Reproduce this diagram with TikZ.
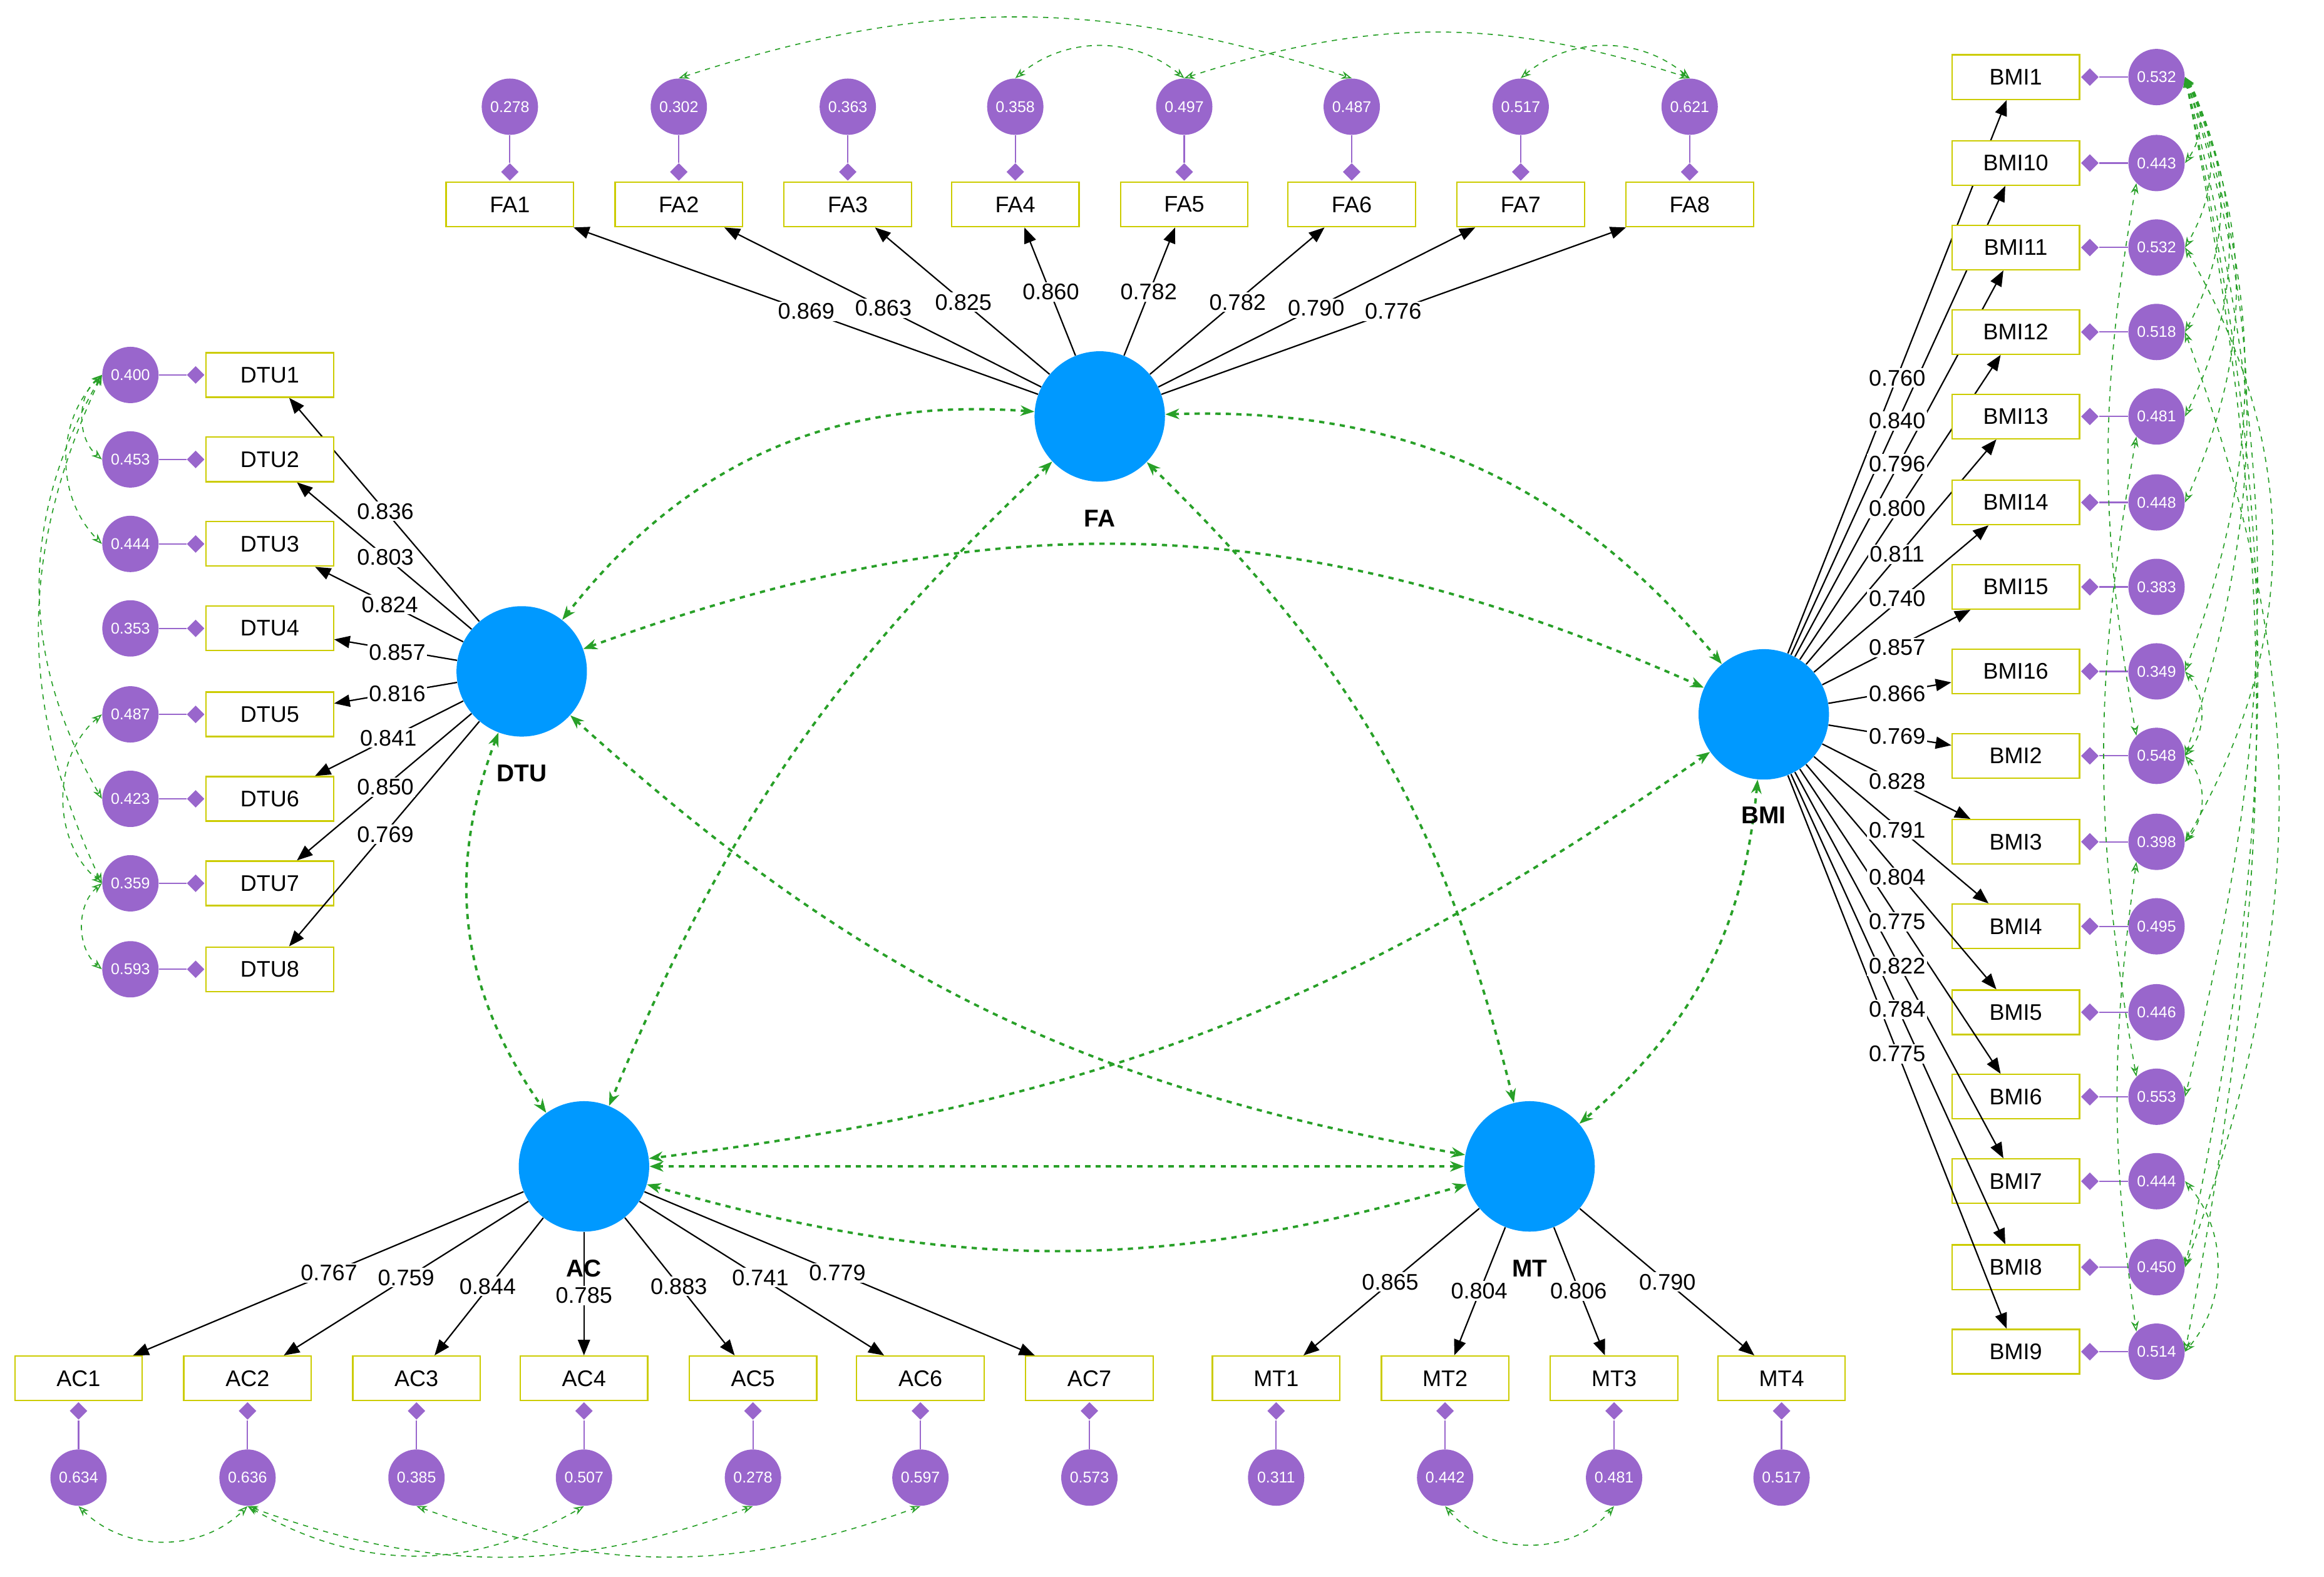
\documentclass[tikz,border=0pt]{standalone}
\usepackage{fontspec}
\setmainfont{Liberation Sans}
\usetikzlibrary{arrows.meta,shapes.geometric}
\definecolor{lv}{RGB}{0,153,255}
\definecolor{er}{RGB}{153,102,204}
\definecolor{bx}{RGB}{204,204,0}
\definecolor{gr}{RGB}{40,160,40}
\begin{document}
\begin{tikzpicture}[x=0.03cm,y=-0.03cm,
 lv/.style={circle,fill=lv,minimum size=2.64cm,inner sep=0},
 ind/.style={draw=bx,line width=0.8pt,fill=white,minimum width=2.58cm,minimum height=0.9cm,inner sep=0,font=\fontsize{13}{13}\selectfont},
 err/.style={circle,fill=er,minimum size=1.14cm,inner sep=0,text=white,font=\fontsize{9}{9}\selectfont},
 ld/.style={-{Triangle[length=9pt,width=7pt]},line width=0.8pt},
 lab/.style={fill=white,inner sep=1pt,font=\fontsize{13}{13}\selectfont},
 el/.style={er,line width=0.8pt},
 dm/.style={diamond,fill=er,minimum size=0.36cm,inner sep=0},
 cov/.style={gr,dashed,line width=1.4pt,{Stealth[open,length=8pt]}-{Stealth[open,length=8pt]}},
 ecov/.style={gr,dashed,line width=0.6pt,{Stealth[open,length=6pt]}-{Stealth[open,length=6pt]}},
 lvl/.style={font=\bfseries\fontsize{14}{14}\selectfont}]
\useasboundingbox (0,0) rectangle (1568,1064);
% latent variables
\node[lv] (FA) at (742,281) {};
\node[lv] (DTU) at (352,453) {};
\node[lv] (BMI) at (1190,482) {};
\node[lv] (AC) at (394,787) {};
\node[lv] (MT) at (1032,787) {};
% FA indicators
\foreach \i/\x/\e in {1/344/0.278,2/458/0.302,3/572/0.363,4/685/0.358,5/799/0.497,6/912/0.487,7/1026/0.517,8/1140/0.621}{
 \node[ind] (fa\i) at (\x,138) {FA\i};
 \node[err] (fa\i e) at (\x,72) {\e};
 \node[dm] (fa\i d) at (\x,116) {};
 \draw[el] (fa\i e) -- (fa\i d);
 \draw[ld] (FA) -- (fa\i);
}
\foreach \i/\l/\lx/\ly in {1/0.869/544/210,2/0.863/596/208,3/0.825/650/204,4/0.860/709/197,5/0.782/775/197,6/0.782/835/204,7/0.790/888/208,8/0.776/940/210}{\node[lab] (fa\i l) at (\lx,\ly) {\l};}
% DTU indicators
\foreach \i/\y/\e in {1/253/0.400,2/310/0.453,3/367/0.444,4/424/0.353,5/482/0.487,6/539/0.423,7/596/0.359,8/654/0.593}{
 \node[ind] (dtu\i) at (182,\y) {DTU\i};
 \node[err] (dtu\i e) at (88,\y) {\e};
 \node[dm] (dtu\i d) at (132,\y) {};
 \draw[el] (dtu\i e) -- (dtu\i d);
 \draw[ld] (DTU) -- (dtu\i);
}
\foreach \i/\l/\lx/\ly in {1/0.836/260/345,2/0.803/260/376,3/0.824/263/408,4/0.857/268/440,5/0.816/268/468,6/0.841/262/498,7/0.850/260/531,8/0.769/260/563}{\node[lab] (dtu\i l) at (\lx,\ly) {\l};}
% BMI indicators
\foreach \n/\t/\y/\e in {1/BMI1/52/0.532,2/BMI10/110/0.443,3/BMI11/167/0.532,4/BMI12/224/0.518,5/BMI13/281/0.481,6/BMI14/339/0.448,7/BMI15/396/0.383,8/BMI16/453/0.349,9/BMI2/510/0.548,10/BMI3/568/0.398,11/BMI4/625/0.495,12/BMI5/683/0.446,13/BMI6/740/0.553,14/BMI7/797/0.444,15/BMI8/855/0.450,16/BMI9/912/0.514}{
 \node[ind] (bmi\n) at (1360,\y) {\t};
 \node[err] (bmi\n e) at (1455,\y) {\e};
 \node[dm] (bmi\n d) at (1410,\y) {};
 \draw[el] (bmi\n e) -- (bmi\n d);
 \draw[ld] (BMI) -- (bmi\n);
}
\foreach \n/\l/\ly in {1/0.760/255,2/0.840/284,3/0.796/313,4/0.800/343,5/0.811/374,6/0.740/404,7/0.857/437,8/0.866/468,9/0.769/497,10/0.828/527,11/0.791/560,12/0.804/592,13/0.775/622,14/0.822/652,15/0.784/681,16/0.775/711}{\node[lab] (bmi\n l) at (1280,\ly) {\l};}
% AC indicators
\foreach \i/\x/\e in {1/53/0.634,2/167/0.636,3/281/0.385,4/394/0.507,5/508/0.278,6/621/0.597,7/735/0.573}{
 \node[ind] (ac\i) at (\x,930) {AC\i};
 \node[err] (ac\i e) at (\x,997) {\e};
 \node[dm] (ac\i d) at (\x,952) {};
 \draw[el] (ac\i e) -- (ac\i d);
 \draw[ld] (AC) -- (ac\i);
}
\foreach \i/\l/\lx/\ly in {1/0.767/222/859,2/0.759/274/862,3/0.844/329/868,4/0.785/394/874,5/0.883/458/868,6/0.741/513/862,7/0.779/565/859}{\node[lab] (ac\i l) at (\lx,\ly) {\l};}
% MT indicators
\foreach \i/\x/\e in {1/861/0.311,2/975/0.442,3/1089/0.481,4/1202/0.517}{
 \node[ind] (mt\i) at (\x,930) {MT\i};
 \node[err] (mt\i e) at (\x,997) {\e};
 \node[dm] (mt\i d) at (\x,952) {};
 \draw[el] (mt\i e) -- (mt\i d);
 \draw[ld] (MT) -- (mt\i);
}
\foreach \i/\l/\lx/\ly in {1/0.865/938/865,2/0.804/998/871,3/0.806/1065/871,4/0.790/1125/865}{\node[lab] (mt\i l) at (\lx,\ly) {\l};}
% structural covariances
\draw[cov] (FA) to[bend right=28] (DTU);
\draw[cov] (FA) to[bend left=26] (BMI);
\draw[cov] (DTU) to[bend left=22] (BMI);
\draw[cov] (FA) to[bend right=12] (AC);
\draw[cov] (FA) to[bend left=16] (MT);
\draw[cov] (DTU) to[bend right=28] (AC);
\draw[cov] (DTU) to[bend right=16] (MT);
\draw[cov] (BMI) to[bend left=14] (AC);
\draw[cov] (BMI) to[bend left=22] (MT);
\draw[cov] (AC) -- (MT);
\draw[cov] (AC) to[bend right=16] (MT);
% latent labels
\node[lvl] (FAl) at (742,350) {FA};
\node[lvl] (DTUl) at (352,522) {DTU};
\node[lvl] (BMIl) at (1190,550) {BMI};
\node[lvl] (ACl) at (394,856) {AC};
\node[lvl] (MTl) at (1032,856) {MT};
% error covariances
\draw[ecov] (fa2e.north) to[bend left=18] (fa6e.north);
\draw[ecov] (fa4e.north) to[bend left=40] (fa5e.north);
\draw[ecov] (fa5e.north) to[bend left=18] (fa8e.north);
\draw[ecov] (fa7e.north) to[bend left=40] (fa8e.north);
\draw[ecov] (dtu1e.west) to[bend right=50] (dtu2e.west);
\draw[ecov] (dtu1e.west) to[bend right=45] (dtu3e.west);
\draw[ecov] (dtu1e.west) to[bend right=30] (dtu6e.west);
\draw[ecov] (dtu1e.west) to[bend right=25] (dtu7e.west);
\draw[ecov] (dtu5e.west) to[bend right=50] (dtu7e.west);
\draw[ecov] (dtu7e.west) to[bend right=50] (dtu8e.west);
\draw[ecov] (ac1e.south) to[bend right=45] (ac2e.south);
\draw[ecov] (ac2e.south) to[bend right=30] (ac4e.south);
\draw[ecov] (ac2e.south) to[bend right=20] (ac5e.south);
\draw[ecov] (ac3e.south) to[bend right=20] (ac6e.south);
\draw[ecov] (mt2e.south) to[bend right=50] (mt3e.south);
\foreach \j/\b in {2/35,3/30,4/28,5/26,6/24,8/20,9/18,13/14,15/12,16/11}{\draw[ecov] (bmi1e.east) to[bend left=\b] (bmi\j e.east);}
\draw[ecov] (bmi2e.south west) to[bend right=10] (bmi9e.north west);
\draw[ecov] (bmi3e.east) to[bend left=30] (bmi10e.east);
\draw[ecov] (bmi4e.east) to[bend left=20] (bmi15e.east);
\draw[ecov] (bmi5e.south west) to[bend right=10] (bmi13e.north west);
\draw[ecov] (bmi8e.east) to[bend left=40] (bmi9e.east);
\draw[ecov] (bmi9e.east) to[bend left=40] (bmi10e.east);
\draw[ecov] (bmi10e.south west) to[bend right=8] (bmi16e.north west);
\draw[ecov] (bmi14e.east) to[bend left=40] (bmi16e.east);
\end{tikzpicture}
\end{document}
